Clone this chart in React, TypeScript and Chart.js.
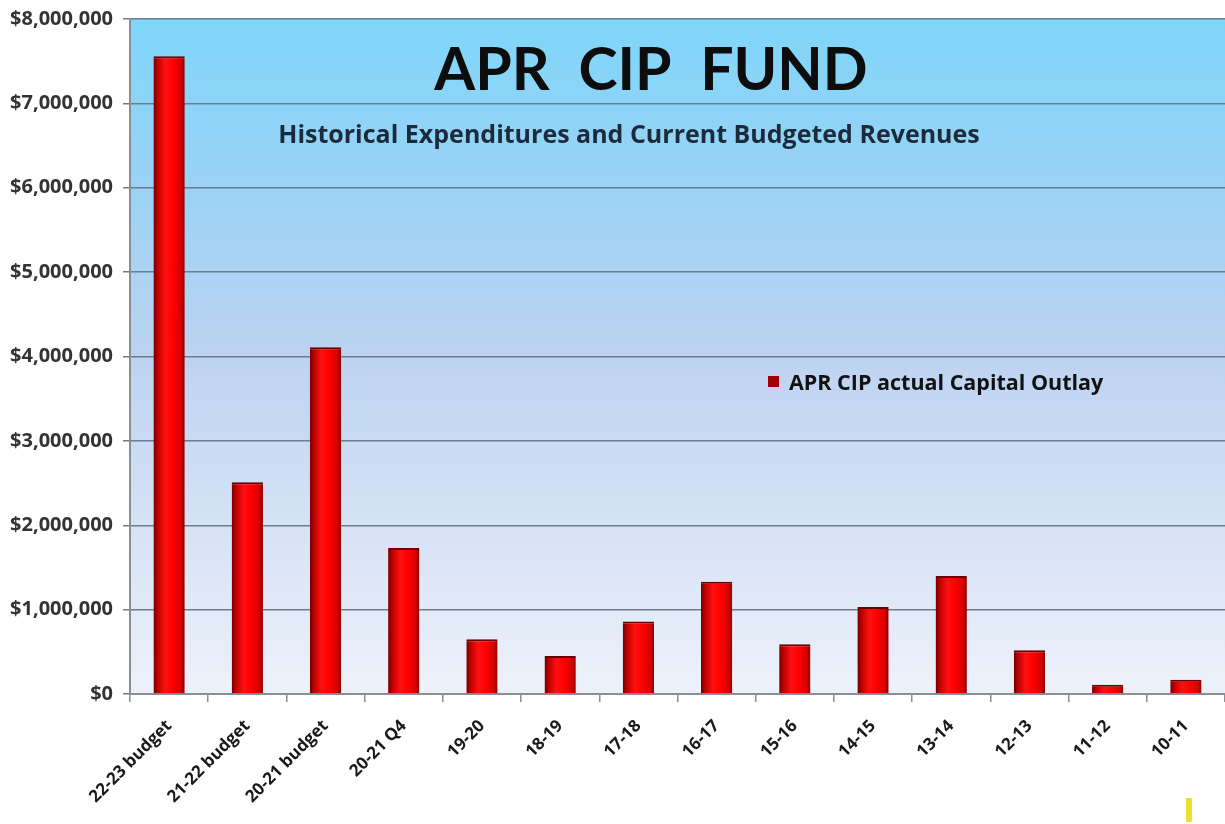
import React, { useEffect, useRef } from "react";
import { Chart, registerables } from "chart.js";

Chart.register(...registerables);

const categories = [
  "22-23 budget",
  "21-22 budget",
  "20-21 budget",
  "20-21 Q4",
  "19-20",
  "18-19",
  "17-18",
  "16-17",
  "15-16",
  "14-15",
  "13-14",
  "12-13",
  "11-12",
  "10-11",
];

const outlay = [
  7560000, 2510000, 4110000, 1730000, 650000, 450000, 860000, 1330000, 590000,
  1030000, 1400000, 520000, 110000, 170000,
];

const seriesName = "APR CIP actual Capital Outlay";
const titleText = "APR  CIP  FUND";
const subtitleText = "Historical Expenditures and Current Budgeted Revenues";
const yMin = 0;
const yMax = 8000000;
const yStep = 1000000;

const TITLE_FONT = "Lato, 'Open Sans', sans-serif";
const FONT = "'Open Sans', Lato, sans-serif";

const decorPlugin = {
  id: "decor",
  beforeDraw(chart: any) {
    const { ctx, chartArea } = chart;
    ctx.save();
    ctx.fillStyle = "#ffffff";
    ctx.fillRect(0, 0, chart.width, chart.height);
    if (chartArea) {
      const g = ctx.createLinearGradient(0, chartArea.top, 0, chartArea.bottom);
      g.addColorStop(0, "#7fd6f9");
      g.addColorStop(0.25, "#9ad2f5");
      g.addColorStop(0.5, "#bcd3f1");
      g.addColorStop(0.75, "#d6e2f5");
      g.addColorStop(1, "#edf2fa");
      ctx.fillStyle = g;
      ctx.fillRect(
        chartArea.left,
        chartArea.top,
        chartArea.right - chartArea.left,
        chartArea.bottom - chartArea.top
      );
    }
    ctx.restore();
  },
  beforeDatasetsDraw(chart: any) {
    const { ctx } = chart;
    const meta = chart.getDatasetMeta(0);
    meta.data.forEach((el: any) => {
      const { x, width } = el.getProps(["x", "width"], true);
      const l = x - width / 2;
      const g = ctx.createLinearGradient(l, 0, l + width, 0);
      g.addColorStop(0, "#6e0000");
      g.addColorStop(0.12, "#b80000");
      g.addColorStop(0.38, "#ff1010");
      g.addColorStop(0.62, "#ff0000");
      g.addColorStop(0.88, "#d40000");
      g.addColorStop(1, "#8a0000");
      el.options.backgroundColor = g;
    });
  },
  afterDraw(chart: any) {
    const { ctx } = chart;
    ctx.save();
    ctx.textBaseline = "alphabetic";
    ctx.textAlign = "center";
    ctx.fillStyle = "#0d0d0d";
    ctx.font = `bold 59px ${TITLE_FONT}`;
    ctx.fillText(titleText, 651, 90);
    ctx.fillStyle = "#1c2b3c";
    ctx.font = `bold 25px ${FONT}`;
    ctx.fillText(subtitleText, 629, 143);

    // legend
    ctx.fillStyle = "#a00000";
    ctx.fillRect(768, 376, 11, 11);
    ctx.textAlign = "left";
    ctx.fillStyle = "#111111";
    ctx.font = `bold 21.5px ${FONT}`;
    ctx.fillText(seriesName, 789, 390);
    ctx.restore();
  },
};

export default function App() {
  const ref = useRef<HTMLCanvasElement | null>(null);

  useEffect(() => {
    if (!ref.current) return;
    const chart = new Chart(ref.current, {
      type: "bar",
      data: {
        labels: categories,
        datasets: [
          {
            label: seriesName,
            data: outlay,
            backgroundColor: () => "#e00000",
            borderColor: "#6a0000",
            borderWidth: { top: 2, left: 0, right: 0, bottom: 0 },
            borderSkipped: false,
            barPercentage: 0.4,
            categoryPercentage: 1,
          },
        ],
      },
      options: {
        animation: false,
        responsive: false,
        devicePixelRatio: 1,
        layout: { padding: { top: 10, left: 0, right: 0, bottom: 0 } },
        plugins: {
          legend: { display: false },
          title: { display: false },
          tooltip: { enabled: false },
        },
        scales: {
          x: {
            offset: true,
            grid: {
              offset: true,
              drawOnChartArea: false,
              drawTicks: true,
              tickLength: 8,
              color: "#8a8f96",
              lineWidth: 1.5,
            },
            border: { display: true, color: "#8a8f96", width: 2 },
            ticks: {
              autoSkip: false,
              maxRotation: 45,
              minRotation: 45,
              padding: 14,
              color: "#1a1a1a",
              font: { family: FONT, size: 17, weight: "bold" },
            },
            afterFit: (scale: any) => {
              scale.height = 130;
            },
          },
          y: {
            min: yMin,
            max: yMax,
            grid: {
              color: "#6f7d8a",
              lineWidth: 1.5,
              tickLength: 7,
              drawTicks: true,
            },
            border: { display: true, color: "#8a8f96", width: 2 },
            ticks: {
              stepSize: yStep,
              padding: 10,
              color: "#333333",
              font: { family: FONT, size: 20, weight: "bold", lineHeight: 0.9 },
              callback: (v: any) => "$" + Number(v).toLocaleString("en-US"),
            },
            afterFit: (scale: any) => {
              scale.width = 130;
            },
          },
        },
      },
      plugins: [decorPlugin],
    });
    return () => chart.destroy();
  }, []);

  return (
    <div
      style={{
        position: "fixed",
        left: 0,
        top: 0,
        width: 1225,
        height: 824,
        background: "#ffffff",
      }}
    >
      <canvas ref={ref} width={1225} height={824} />
      <div
        style={{
          position: "absolute",
          left: 1186,
          top: 798,
          width: 6,
          height: 24,
          background: "#ece030",
        }}
      />
    </div>
  );
}
